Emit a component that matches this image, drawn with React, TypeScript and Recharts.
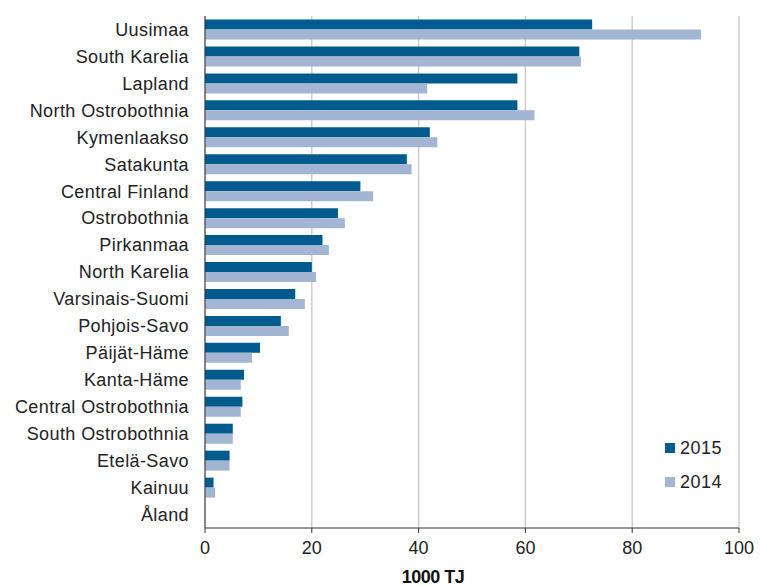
import { BarChart, Bar, XAxis, YAxis, CartesianGrid } from "recharts";

const regions = [
    "Uusimaa",
    "South Karelia",
    "Lapland",
    "North Ostrobothnia",
    "Kymenlaakso",
    "Satakunta",
    "Central Finland",
    "Ostrobothnia",
    "Pirkanmaa",
    "North Karelia",
    "Varsinais-Suomi",
    "Pohjois-Savo",
    "Päijät-Häme",
    "Kanta-Häme",
    "Central Ostrobothnia",
    "South Ostrobothnia",
    "Etelä-Savo",
    "Kainuu",
    "Åland",
];

// 1000 TJ
const values2015 = [72.5, 70.1, 58.5, 58.5, 42.1, 37.8, 29.1, 24.9, 22.0, 20.0, 16.9, 14.2, 10.3, 7.3, 7.0, 5.2, 4.6, 1.6, 0];
const values2014 = [92.9, 70.4, 41.6, 61.7, 43.5, 38.7, 31.5, 26.2, 23.2, 20.8, 18.7, 15.7, 8.8, 6.7, 6.7, 5.2, 4.6, 1.9, 0];

const xTicks = [0, 20, 40, 60, 80, 100];

const colors = {
    y2015: "#005b8f", // tummansininen
    y2014: "#a2b6d3", // vaaleansininen
};

const data = regions.map((name, i) => ({
    name,
    y2015: values2015[i],
    y2014: values2014[i],
}));

const font = "'Liberation Sans', Arial, sans-serif";

const legendItems = [
    { label: "2015", color: colors.y2015 },
    { label: "2014", color: colors.y2014 },
];

export default function App() {
    return (
        <div style={{ position: "absolute", left: 0, top: 0, width: 760, height: 586, background: "#fff" }}>
            <BarChart
                width={760}
                height={586}
                data={data}
                layout="vertical"
                margin={{ top: 16, right: 21, left: 0, bottom: 0 }}
                barCategoryGap="13%"
                barGap={0}
            >
                <CartesianGrid horizontal={false} stroke="#c8c8c8" strokeWidth={1.3} />
                <XAxis
                    type="number"
                    domain={[0, 100]}
                    ticks={xTicks}
                    height={58}
                    stroke="#333"
                    tick={{ fill: "#222", fontSize: 18, fontFamily: font }}
                    tickSize={5}
                    tickMargin={8}
                    label={{
                        value: "1000 TJ",
                        position: "insideBottom",
                        dx: -39,
                        offset: 3,
                        fill: "#111",
                        fontSize: 18,
                        fontWeight: "bold",
                        fontFamily: font,
                        letterSpacing: -0.5,
                    }}
                />
                <YAxis
                    type="category"
                    dataKey="name"
                    width={205}
                    stroke="#333"
                    tickLine={false}
                    interval={0}
                    tickMargin={10}
                    tick={{ fill: "#222", fontSize: 18, fontFamily: font, letterSpacing: 0.4 }}
                />
                <Bar dataKey="y2015" fill={colors.y2015} isAnimationActive={false} />
                <Bar dataKey="y2014" fill={colors.y2014} isAnimationActive={false} />
            </BarChart>
            {/* legenda kuvan päälle */}
            <div
                style={{
                    position: "absolute",
                    left: 665,
                    top: 431,
                    fontFamily: font,
                    fontSize: 18,
                    letterSpacing: 0.5,
                    color: "#222",
                }}
            >
                {legendItems.map((item) => (
                    <div
                        key={item.label}
                        style={{ display: "flex", alignItems: "center", height: 34 }}
                    >
                        <span
                            style={{
                                width: 10,
                                height: 10,
                                background: item.color,
                                marginRight: 5,
                                display: "inline-block",
                            }}
                        />
                        {item.label}
                    </div>
                ))}
            </div>
        </div>
    );
}
